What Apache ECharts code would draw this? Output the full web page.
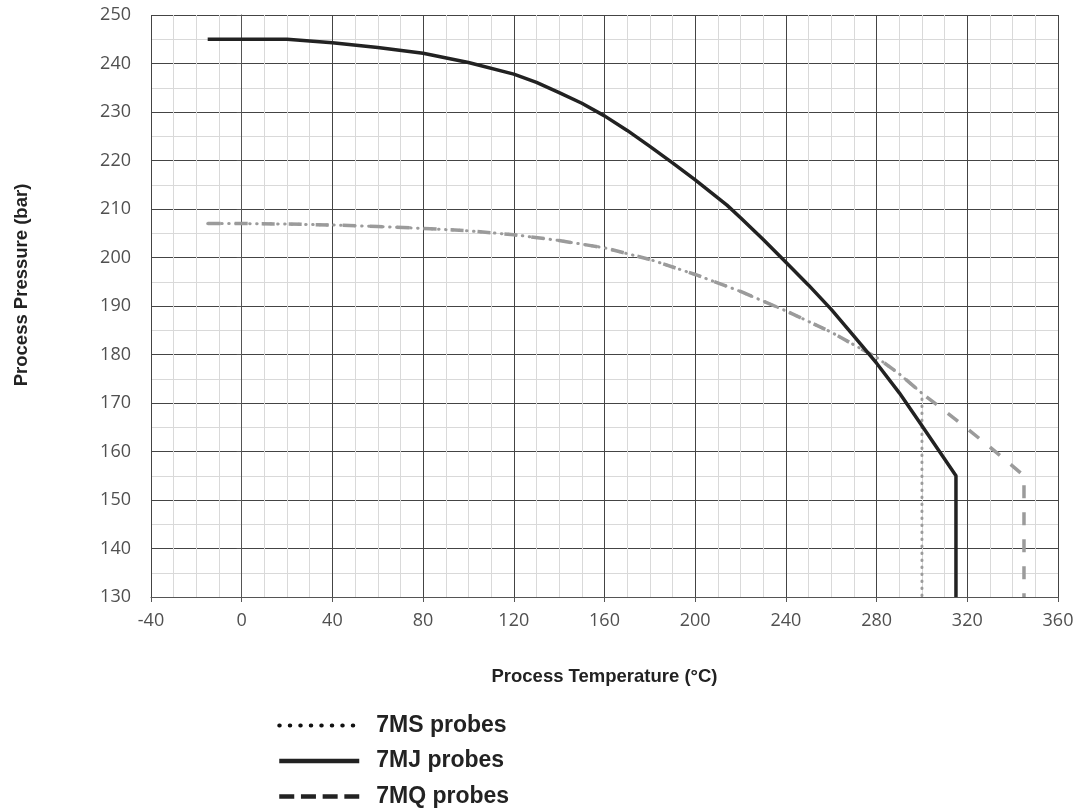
<!DOCTYPE html>
<html>
<head>
<meta charset="utf-8">
<script src="https://cdn.jsdelivr.net/npm/echarts@6/dist/echarts.min.js"></script>
<style>
html,body{margin:0;padding:0;background:#fff;}
#chart{width:1079px;height:811px;}
</style>
</head>
<body>
<div id="chart"></div>
<script>
// Tick settings
const xTicks = { min: -40, max: 360, step: 40 };
const yTicks = { min: 130, max: 250, step: 10 };

// Shared upper part of the 7MS / 7MQ curve [temperature °C, pressure bar]
const sharedCurve = [
  [-15, 207], [0, 207], [20, 206.9], [40, 206.7], [60, 206.4], [80, 206.0],
  [100, 205.5], [120, 204.7], [140, 203.5], [160, 202.0], [180, 199.6],
  [200, 196.5], [220, 193.0], [240, 189.0], [260, 184.6], [280, 179.4],
  [290, 176.0], [300, 172.0]
];
// 7MS probes: shared curve then vertical at 300 °C
const msTail = [[300, 130]];
// 7MQ probes: shared curve then continues to 345 °C, vertical down
const mqTail = [[310, 168.4], [320, 164.7], [330, 160.9], [340, 157.0], [345, 155], [345, 130]];
// 7MJ probes
const mjData = [
  [-15, 245], [20, 245], [40, 244.3], [60, 243.3], [80, 242.1], [100, 240.2],
  [120, 237.8], [130, 236.1], [140, 234.0], [150, 231.8], [160, 229.2],
  [170, 226.2], [180, 222.9], [190, 219.5], [200, 216.0], [214, 210.8],
  [220, 208.2], [230, 203.7], [240, 199.0], [250, 194.3], [260, 189.3],
  [270, 183.8], [280, 178.2], [290, 172.1], [300, 165.3], [315, 155], [315, 130]
];

const seriesNames = ['7MS probes', '7MJ probes', '7MQ probes'];

const msData = sharedCurve.concat(msTail);
const mqData = sharedCurve.concat(mqTail);

const chart = echarts.init(document.getElementById('chart'));
const tickFont = { fontFamily: 'Open Sans', fontSize: 18, color: '#505050' };
const titleFont = { fontFamily: 'Liberation Sans', fontSize: 18.5, fontWeight: 'bold', color: '#222' };
const hiddenSymbol = { color: 'rgba(0,0,0,0)', borderWidth: 0, opacity: 0 };

chart.setOption({
  animation: false,
  backgroundColor: '#fff',
  grid: { left: 151, right: 21, top: 15, bottom: 214, containLabel: false },
  xAxis: {
    type: 'value', min: xTicks.min, max: xTicks.max, interval: xTicks.step,
    name: 'Process Temperature (°C)', nameLocation: 'middle', nameGap: 70,
    nameTextStyle: titleFont,
    axisLine: { show: true, onZero: false, lineStyle: { color: '#555', width: 1 } },
    axisTick: { show: true, length: 5, lineStyle: { color: '#555' } },
    axisLabel: Object.assign({ margin: 15 }, tickFont),
    splitLine: { show: true, lineStyle: { color: '#444', width: 1 } },
    minorTick: { show: false, splitNumber: 4 },
    minorSplitLine: { show: true, lineStyle: { color: '#d9d9d9', width: 1 } }
  },
  yAxis: {
    type: 'value', min: yTicks.min, max: yTicks.max, interval: yTicks.step,
    name: 'Process Pressure (bar)', nameLocation: 'middle', nameGap: 120,
    nameTextStyle: Object.assign({ padding: [0, 0, 0, 42] }, titleFont),
    axisLine: { show: true, lineStyle: { color: '#555', width: 1 } },
    axisTick: { show: true, length: 5, lineStyle: { color: '#555' } },
    axisLabel: Object.assign({ margin: 20 }, tickFont),
    splitLine: { show: true, lineStyle: { color: '#444', width: 1 } },
    minorTick: { show: false, splitNumber: 2 },
    minorSplitLine: { show: true, lineStyle: { color: '#d9d9d9', width: 1 } }
  },
  legend: {
    orient: 'vertical', left: 277, top: 714, padding: 0, height: 97,
    itemWidth: 80, itemHeight: 14, itemGap: 12.5,
    textStyle: { fontFamily: 'Liberation Sans', fontSize: 23, fontWeight: 'bold', color: '#222', lineHeight: 22, padding: [0, 0, 0, 12] },
    data: [
      { name: seriesNames[0], itemStyle: hiddenSymbol, lineStyle: { color: '#111', width: 4, type: [0.5, 10], cap: 'round' } },
      { name: seriesNames[1], itemStyle: hiddenSymbol, lineStyle: { color: '#222', width: 4.5, type: 'solid' } },
      { name: seriesNames[2], itemStyle: hiddenSymbol, lineStyle: { color: '#222', width: 4.5, type: [15, 6.7], cap: 'butt' } }
    ]
  },
  series: [
    {
      name: seriesNames[0], type: 'line', data: msData, symbol: 'none', smooth: false,
      lineStyle: { color: '#9b9b9b', width: 3, type: [0.5, 6.5], cap: 'round' },
      itemStyle: { color: '#222' }, z: 3
    },
    {
      name: seriesNames[1], type: 'line', data: mjData, symbol: 'none', smooth: false,
      lineStyle: { color: '#222', width: 3.5, type: 'solid' },
      itemStyle: { color: '#222' }, z: 4
    },
    {
      name: seriesNames[2], type: 'line', data: mqData, symbol: 'none', smooth: false,
      lineStyle: { color: '#9b9b9b', width: 3.5, type: [13, 14], cap: 'butt' },
      itemStyle: { color: '#222' }, z: 2
    }
  ]
});
</script>
</body>
</html>
